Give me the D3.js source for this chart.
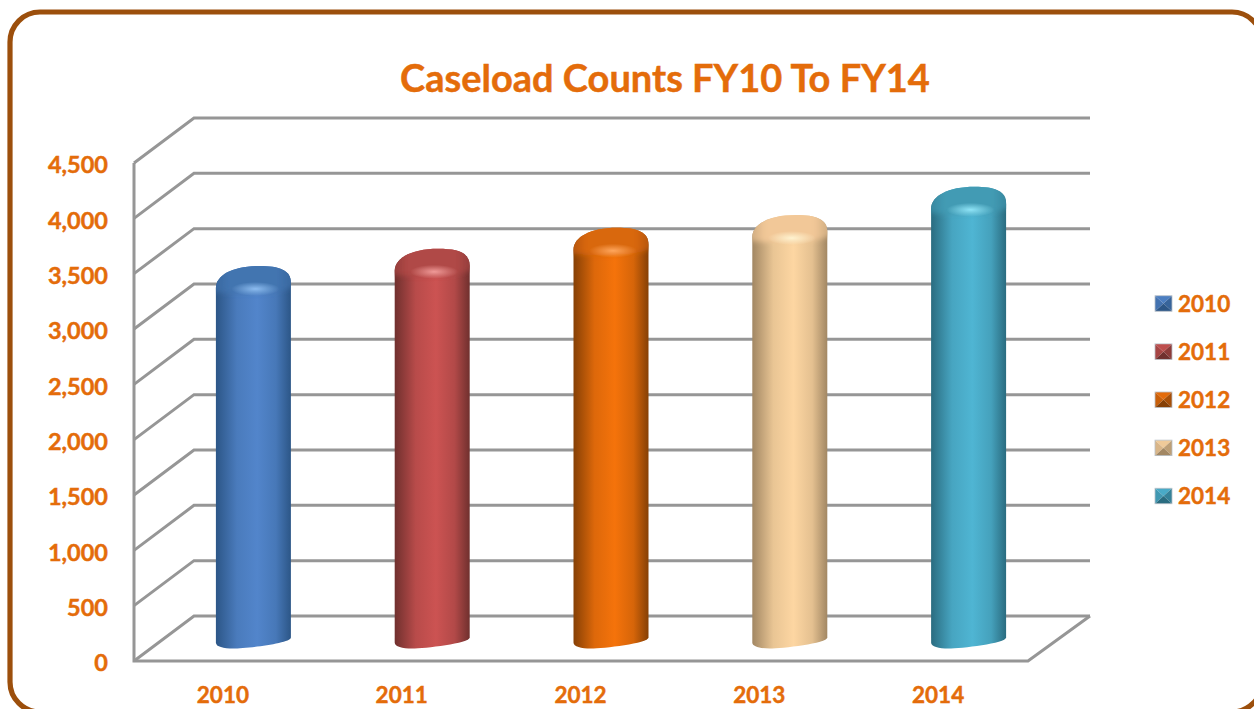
<!DOCTYPE html>
<html>
<head>
<meta charset="utf-8">
<script src="https://cdn.jsdelivr.net/npm/d3@7"></script>
<style>
  html, body { margin: 0; padding: 0; background: #fff; overflow: hidden; }
  text { font-family: Lato, "Open Sans", sans-serif; font-weight: 700; fill: #e46c0a; stroke: #e46c0a; stroke-width: 0.45px; }
  .grid { fill: none; stroke: #969696; stroke-width: 3; stroke-linejoin: miter; }
</style>
</head>
<body>
<div id="chart"></div>
<script>
// Data
const years = ['2010', '2011', '2012', '2013', '2014'];
const caseloads = [3240, 3395, 3585, 3700, 3955];
const yTicks = [0, 500, 1000, 1500, 2000, 2500, 3000, 3500, 4000, 4500];
const chartTitle = 'Caseload Counts FY10 To FY14';

// edge, middle, cap and highlight colour for each year
const edgeColors = ['#2c5687', '#70302e', '#864005', '#a28763', '#2a6c80'];
const midColors = ['#5285cb', '#cc5352', '#f5730b', '#fdd6a2', '#4fb5d3'];
const capColors = ['#4274b0', '#b04846', '#d9670a', '#f2c898', '#429bb4'];
const glowColors = ['#8cbcf0', '#f09a98', '#ffa65c', '#fff3d0', '#8fe4f7'];

const w = 1254, h = 709;
const floor = {left: 134, right: 1028, front: 661, top: 163};
const depth = {x: 60, y: -45};
const barHalf = 37.5;

const svg = d3.select('#chart').append('svg').attr('width', w).attr('height', h);
const defs = svg.append('defs');

// Frame, runs off the right and bottom of the picture
svg.append('rect')
  .attr('x', 10).attr('y', 12)
  .attr('width', 1252).attr('height', 700)
  .attr('rx', 30).attr('ry', 30)
  .attr('fill', '#fff')
  .attr('stroke', '#9c4f0c')
  .attr('stroke-width', 5.2);

svg.append('text')
  .text(chartTitle)
  .attr('x', 665).attr('y', 92)
  .attr('text-anchor', 'middle')
  .style('font-size', '38px');

const xScale = d3.scaleBand().domain(years).range([floor.left, floor.right]);
const yScale = d3.scaleLinear().domain([0, 4500]).range([floor.front, floor.top]);

// Walls and floor
const gridLayer = svg.append('g');
gridLayer.selectAll('path.tick-line')
  .data(yTicks)
  .enter()
  .append('path')
  .attr('class', 'grid tick-line')
  .attr('d', function (d) {
    let y = yScale(d);
    return 'M' + floor.left + ',' + y +
      'L' + (floor.left + depth.x) + ',' + (y + depth.y) +
      'H' + (floor.right + depth.x + 2);
  });
gridLayer.append('path')
  .attr('class', 'grid')
  .attr('d', 'M' + floor.left + ',' + yScale(4500) + 'V' + floor.front +
    'H' + floor.right + 'L' + (floor.right + depth.x + 2) + ',' + (floor.front + depth.y));

// Axes, only their labels are shown
const yAxis = d3.axisLeft(yScale).tickValues(yTicks).tickFormat(d3.format(',')).tickSize(0).tickPadding(26);
svg.append('g').attr('transform', 'translate(' + floor.left + ',0)').call(yAxis)
  .call(g => g.select('.domain').remove())
  .selectAll('text').style('font-size', '23.5px').attr('dy', '0.42em');

const xAxis = d3.axisBottom(xScale).tickSize(0).tickPadding(26.5);
svg.append('g').attr('transform', 'translate(0,' + floor.front + ')').call(xAxis)
  .call(g => g.select('.domain').remove())
  .selectAll('text').style('font-size', '22.5px').attr('dy', '0.71em').attr('x', -0.5);

// Gradients and cylinders
defs.append('filter').attr('id', 'soft').attr('x', '-20%').attr('y', '-40%').attr('width', '140%').attr('height', '180%')
  .append('feGaussianBlur').attr('stdDeviation', 2.6);

years.forEach(function (year, i) {
  let body = defs.append('linearGradient').attr('id', 'body-' + year);
  body.append('stop').attr('offset', '0%').attr('stop-color', edgeColors[i]);
  body.append('stop').attr('offset', '28%').attr('stop-color', d3.interpolateRgb(edgeColors[i], midColors[i])(0.78));
  body.append('stop').attr('offset', '55%').attr('stop-color', midColors[i]);
  body.append('stop').attr('offset', '80%').attr('stop-color', d3.interpolateRgb(edgeColors[i], midColors[i])(0.72));
  body.append('stop').attr('offset', '100%').attr('stop-color', edgeColors[i]);

  let cap = defs.append('linearGradient').attr('id', 'cap-' + year);
  let capEdge = d3.interpolateRgb(edgeColors[i], capColors[i])(0.55);
  cap.append('stop').attr('offset', '5%').attr('stop-color', capEdge);
  cap.append('stop').attr('offset', '22%').attr('stop-color', capColors[i]);
  cap.append('stop').attr('offset', '78%').attr('stop-color', capColors[i]);
  cap.append('stop').attr('offset', '95%').attr('stop-color', capEdge);

  let glow = defs.append('radialGradient').attr('id', 'glow-' + year);
  glow.append('stop').attr('offset', '0%').attr('stop-color', glowColors[i]);
  glow.append('stop').attr('offset', '100%').attr('stop-color', glowColors[i]).attr('stop-opacity', 0);
});

function cylinderPath(cx, top, base) {
  let l = cx - barHalf, r = cx + barHalf;
  return 'M' + l + ',' + (top + 8) +
    'C' + l + ',' + (top - 5) + ' ' + (cx - 20) + ',' + (top - 14) + ' ' + (cx + 6) + ',' + (top - 14) +
    'C' + (cx + 26) + ',' + (top - 14) + ' ' + r + ',' + (top - 10) + ' ' + r + ',' + (top + 3) +
    'V' + (base - 1) +
    'C' + r + ',' + (base + 5) + ' ' + (cx - 8) + ',' + (base + 10) + ' ' + (cx - 20) + ',' + (base + 10) +
    'C' + (cx - 30) + ',' + (base + 10) + ' ' + l + ',' + (base + 8) + ' ' + l + ',' + (base + 4) + 'Z';
}

function capPath(cx, top) {
  let l = cx - barHalf - 6, r = cx + barHalf + 6;
  return 'M' + l + ',' + (top + 8) +
    'V' + (top - 20) + 'H' + r + 'V' + (top + 2) +
    'C' + r + ',' + (top + 9) + ' ' + (cx + 22) + ',' + (top + 13) + ' ' + cx + ',' + (top + 13) +
    'C' + (cx - 22) + ',' + (top + 13) + ' ' + l + ',' + (top + 14) + ' ' + l + ',' + (top + 8) + 'Z';
}

const barOffset = {x: depth.x / 2 + xScale.bandwidth() / 2, y: depth.y / 2};
const bars = svg.append('g').selectAll('g')
  .data(years)
  .enter()
  .append('g');

function barShape(d, i) {
  return cylinderPath(xScale(d) + barOffset.x, yScale(caseloads[i]) + barOffset.y, yScale(0) + barOffset.y);
}

bars.append('clipPath')
  .attr('id', d => 'clip-' + d)
  .append('path')
  .attr('d', barShape);

bars.append('path')
  .attr('d', barShape)
  .attr('fill', d => 'url(#body-' + d + ')');

const caps = bars.append('g').attr('clip-path', d => 'url(#clip-' + d + ')');
caps.append('path')
  .attr('d', (d, i) => capPath(xScale(d) + barOffset.x, yScale(caseloads[i]) + barOffset.y))
  .attr('fill', d => 'url(#cap-' + d + ')')
  .attr('filter', 'url(#soft)');
caps.append('ellipse')
  .attr('cx', d => xScale(d) + barOffset.x + 2)
  .attr('cy', (d, i) => yScale(caseloads[i]) + barOffset.y + 9)
  .attr('rx', 24).attr('ry', 7)
  .attr('fill', d => 'url(#glow-' + d + ')');

// Legend with bevelled swatches
const legendY = d3.scalePoint().domain(years).range([303.5, 496]);
const legend = svg.append('g').selectAll('g')
  .data(years)
  .enter()
  .append('g')
  .attr('transform', d => 'translate(1155,' + legendY(d) + ')');

const swatchW = 17, swatchH = 15.5;
legend.each(function (d, i) {
  let g = d3.select(this);
  let x0 = 0, x1 = swatchW, y0 = -swatchH / 2, y1 = swatchH / 2, mx = swatchW / 2;
  let mix = d3.interpolateRgb(edgeColors[i], midColors[i]);
  let faces = [
    {pts: [[x0, y0], [x1, y0], [mx, 0]], color: mix(0.85)},
    {pts: [[x0, y0], [x0, y1], [mx, 0]], color: mix(0.6)},
    {pts: [[x1, y0], [x1, y1], [mx, 0]], color: mix(0.3)},
    {pts: [[x0, y1], [x1, y1], [mx, 0]], color: edgeColors[i]}
  ];
  g.selectAll('polygon')
    .data(faces)
    .enter()
    .append('polygon')
    .attr('points', f => f.pts.join(' '))
    .attr('fill', f => f.color);
  g.append('rect')
    .attr('x', x0).attr('y', y0)
    .attr('width', swatchW).attr('height', swatchH)
    .attr('fill', 'none')
    .attr('stroke', '#b9c0c8')
    .attr('stroke-width', 0.8);
  g.append('text')
    .text(d)
    .attr('x', 23)
    .attr('y', 8)
    .style('font-size', '22.5px');
});
</script>
</body>
</html>
